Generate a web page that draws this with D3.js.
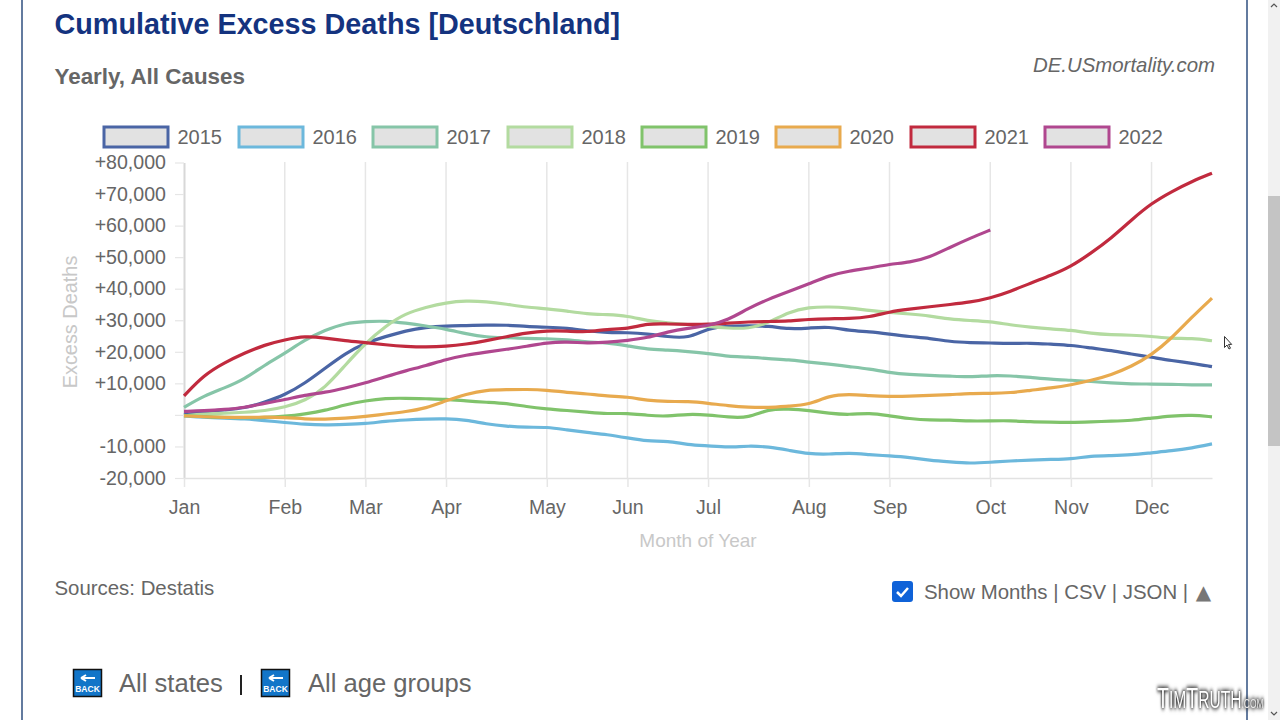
<!DOCTYPE html>
<html><head><meta charset="utf-8">
<script src="https://cdnjs.cloudflare.com/ajax/libs/d3/7.8.5/d3.min.js"></script>
<style>
html,body{margin:0;padding:0;background:#fff;overflow:hidden}
svg{display:block;font-family:"Liberation Sans",Arial,sans-serif}
</style></head><body><svg id="c" width="1280" height="720"></svg>
<script>
const years = ["2015","2016","2017","2018","2019","2020","2021","2022"];
const colors = ["#4a65a5","#6cb8dc","#86c5a8","#b3dba0","#80c36b","#e8aa4e","#c12a3e","#b0478f"];
const monthLabels = ["Jan","Feb","Mar","Apr","May","Jun","Jul","Aug","Sep","Oct","Nov","Dec"];
const monthWeeks = [0,5,9,13,18,22,26,31,35,40,44,48];
const yTicks = [80000,70000,60000,50000,40000,30000,20000,10000,0,-10000,-20000];

// values in thousands of excess deaths, one per week
const s2015 = [0,1,1.6,2.1,4,6.3,10,14.8,19.5,22.9,24.8,26.7,27.8,28.2,28.3,28.5,28.5,28,27.8,27.5,26.6,26.1,26.1,25.7,24.8,24.2,27.5,28.2,28.2,28.2,27.2,27.5,28,26.7,26.4,25.6,24.8,24.3,23.2,22.9,22.8,22.6,22.8,22.4,22.1,21.2,20.4,19.3,18.3,17.2,16.4,15.3];
const s2016 = [-0.3,-0.8,-1,-1.2,-1.8,-2.4,-3,-3.2,-3,-2.8,-2,-1.6,-1.3,-1.2,-1.6,-2.9,-3.6,-4,-3.8,-4.8,-5.6,-6.2,-7.3,-8.4,-8.2,-9.5,-9.8,-10.3,-9.8,-10.1,-11.2,-12.4,-12.5,-12,-12.6,-13,-13.5,-14.4,-14.9,-15.4,-15,-14.6,-14.3,-14.1,-14,-13,-12.9,-12.7,-12,-11.4,-10.5,-9.2];
const s2017 = [2.4,6.1,8.5,11.3,15.8,19.5,23.8,26.9,29.1,29.6,29.8,29.1,28.2,27.2,25.7,24.6,24.5,24.2,24.2,23.8,23.1,22.9,21.9,20.8,20.6,20.1,19.5,18.5,18.4,17.8,17.5,16.7,16.1,15.3,14.6,13.4,12.8,12.5,12.3,12,12.5,12.4,11.9,11.3,11,10.6,10.1,9.8,9.8,9.7,9.5,9.5];
const s2018 = [-0.3,0.3,0.5,0.8,1.3,2.4,4.5,8.5,15.8,22.7,28.2,32.2,34.1,35.6,36.2,35.9,35.1,34.1,33.7,32.9,32,31.8,31.4,29.8,29.1,28.7,28,27.5,27.3,29.1,32.7,34.1,34.3,33.9,33.1,32.5,32,31.4,30.3,29.9,29.6,28.5,27.8,27.2,26.9,25.8,25.4,25.3,24.9,24.2,24.3,23.5];
const s2019 = [-0.2,-0.6,-0.8,-0.9,-0.8,-0.5,0.3,1.4,3.2,4.5,5.3,5.3,5.1,5,4.4,4,3.7,2.6,1.9,1.4,0.9,0.3,0.6,-0.2,-0.5,0.3,0,-0.7,-1,1.9,1.9,1.4,0.5,0,0.7,-0.3,-1.2,-1.7,-1.6,-2,-1.9,-1.8,-2.2,-2.3,-2.4,-2.2,-2,-1.8,-1,-0.3,0,-0.6];
const s2020 = [-0.3,-0.6,-0.8,-0.8,-0.7,-0.8,-1.3,-1.4,-1.1,-0.5,0.3,1,2.1,4.5,6.6,7.9,8,8.1,7.9,7.1,6.7,5.9,5.8,4.5,4.2,4.3,3.7,2.9,2.4,2.3,2.8,3.2,6.1,6.6,6.1,5.8,5.9,6.2,6.4,6.8,6.8,7,7.8,8.5,9.5,10.9,12.7,15.3,19,24.3,31,37];
const s2021 = [6,12.7,16.5,19.6,22.2,23.8,25,24.4,23.5,22.9,22.2,21.7,21.5,21.7,22.4,23.5,24.8,26,26.7,26.6,26.2,27.2,27.2,29,28.8,28.7,28.7,29.1,29.5,29.6,29.7,30.3,30.5,30.5,31,32.7,33.5,34.3,35,35.7,37,39.1,41.8,44.2,47,51.3,56,61.8,67.1,70.8,74,76.6];
const s2022 = [1.1,1.3,1.7,2.3,3.7,4.8,6.3,7.1,8.5,10.1,12.1,14,15.6,17.6,19,19.9,20.8,21.7,22.9,23.2,22.7,23,23.6,24.4,26.4,27.5,28.2,30.1,33.8,36.7,39.1,41.5,44.2,45.6,46.5,47.8,48.3,50,53.1,56,58.6];
const allSeries = [s2015,s2016,s2017,s2018,s2019,s2020,s2021,s2022];

const gray = "#666", svg = d3.select("#c");
const x = d3.scaleLinear().domain([0,51]).range([184,1212]);
const y = d3.scaleLinear().domain([-20,80]).range([478,162.5]);

// page furniture
svg.append("rect").attr("x",1268).attr("y",0).attr("width",12).attr("height",720).attr("fill","#f1f1f1");
svg.append("rect").attr("x",1268).attr("y",196).attr("width",12).attr("height",250).attr("fill","#c4c4c4");
svg.append("path").attr("d","M1271 7l3-3 3 3").attr("fill","none").attr("stroke","#555").attr("stroke-width",1.2);
svg.append("path").attr("d","M1271 712l3 3 3-3").attr("fill","none").attr("stroke","#555").attr("stroke-width",1.2);
[22,1247].forEach(px=>svg.append("line").attr("x1",px).attr("x2",px).attr("y1",0).attr("y2",720).attr("stroke","#2f4f7f").attr("stroke-width",1.5));

svg.append("text").attr("x",54.5).attr("y",34).attr("font-size",28.75).attr("font-weight",700).attr("fill","#14337f").text("Cumulative Excess Deaths [Deutschland]");
svg.append("text").attr("x",54.5).attr("y",84).attr("font-size",22.4).attr("font-weight",700).attr("fill",gray).text("Yearly, All Causes");
svg.append("text").attr("x",1215).attr("y",72).attr("text-anchor","end").attr("font-size",20.4).attr("font-style","italic").attr("fill",gray).text("DE.USmortality.com");

// legend
const legendX = [104,239,373,508,642,776,911,1045];
const lg = svg.append("g").selectAll("g").data(years).join("g").attr("transform",(d,i)=>`translate(${legendX[i]},127)`);
lg.append("rect").attr("width",64).attr("height",20).attr("fill","#e2e2e2").attr("stroke",(d,i)=>colors[i]).attr("stroke-width",3);
lg.append("text").attr("x",73.5).attr("y",17).attr("font-size",20).attr("fill",gray).text(d=>d);

// grid
svg.append("g").selectAll("line").data(monthWeeks.slice(1)).join("line")
  .attr("x1",d=>x(d)).attr("x2",d=>x(d)).attr("y1",162).attr("y2",478).attr("stroke","#e6e6e6").attr("stroke-width",1.5);

// axes
const yAxis = d3.axisLeft(y).tickValues(yTicks.map(v=>v/1000)).tickSize(9).tickSizeOuter(0).tickPadding(9)
  .tickFormat(v=>v===0?"":(v>0?"+":"-")+d3.format(",")(Math.abs(v)*1000));
const gy = svg.append("g").attr("transform","translate(184,0)").call(yAxis);
gy.select(".domain").attr("stroke","#d8d8d8").attr("stroke-width",2);
gy.selectAll(".tick line").attr("stroke","#e6e6e6").attr("stroke-width",1.2);
gy.selectAll("text").attr("font-size",19.6).attr("fill",gray).attr("font-family","Liberation Sans");

const xAxis = d3.axisBottom(x).tickValues(monthWeeks).tickSize(9).tickSizeOuter(0).tickPadding(13).tickFormat((d,i)=>monthLabels[i]);
const gx = svg.append("g").attr("transform","translate(0,478)").call(xAxis);
gx.select(".domain").attr("stroke","#e2e2e2").attr("stroke-width",1.5);
gx.selectAll(".tick line").attr("stroke","#e6e6e6").attr("stroke-width",1.5);
gx.selectAll("text").attr("font-size",19.5).attr("fill",gray).attr("font-family","Liberation Sans");

svg.append("text").attr("transform","translate(77,322) rotate(-90)").attr("text-anchor","middle").attr("font-size",19.9).attr("fill","#c8c8c8").text("Excess Deaths");
svg.append("text").attr("x",698).attr("y",547).attr("text-anchor","middle").attr("font-size",19).attr("fill","#c8c8c8").text("Month of Year");

// lines
const line = d3.line().x((d,i)=>x(i)).y(d=>y(d)).curve(d3.curveBasis);
svg.append("g").selectAll("path").data(allSeries).join("path")
  .attr("d",line).attr("fill","none").attr("stroke",(d,i)=>colors[i]).attr("stroke-width",3.2);

// footer
svg.append("text").attr("x",54.5).attr("y",595).attr("font-size",20.4).attr("fill",gray).text("Sources: Destatis");
svg.append("rect").attr("x",892).attr("y",581).attr("width",21).attr("height",21).attr("rx",3).attr("fill","#0f62d8");
svg.append("path").attr("d","M897 592l4 4 7-8").attr("fill","none").attr("stroke","#fff").attr("stroke-width",2.5);
const sm = svg.append("text").attr("x",924).attr("y",599).attr("font-size",20.4).attr("fill",gray);
sm.append("tspan").text("Show Months | CSV | JSON | ");
sm.append("tspan").attr("font-family","DejaVu Sans").attr("font-size",20).attr("dx",2).attr("fill","#777").text("▲");

function back(px){
  const g = svg.append("g").attr("transform",`translate(${px},669)`);
  g.append("rect").attr("x",0.5).attr("y",0.5).attr("width",28).attr("height",27).attr("fill","#1275c8").attr("stroke","#111").attr("stroke-width",1.5);
  g.append("path").attr("d","M8 9h14M8 9l5-3M8 9l5 3").attr("stroke","#fff").attr("stroke-width",2).attr("fill","none");
  g.append("text").attr("x",14.5).attr("y",23).attr("text-anchor","middle").attr("font-size",8.5).attr("font-weight",700).attr("fill","#fff").text("BACK");
}
back(73); back(261);
svg.append("text").attr("x",119).attr("y",692).attr("font-size",25.6).attr("fill",gray).text("All states");
svg.append("rect").attr("x",240).attr("y",675).attr("width",2).attr("height",20).attr("fill","#222");
svg.append("text").attr("x",308).attr("y",692).attr("font-size",25.6).attr("fill",gray).text("All age groups");

// mouse pointer
svg.append("path").attr("d","M1224.5 336.5v11l2.5-2.5 2 4 1.5-.8-2-3.8h3.2z").attr("fill","#fff").attr("stroke","#333").attr("stroke-width",1);

// watermark
const wmParts = [["T",30,"#fff"],["IM",24,"#fff"],["T",30,"#fff"],["RUTH",24,"#fff"],[".COM",13,"#e8e8e8"]];
const wm = svg.append("text").attr("transform","translate(1157,708) scale(0.65,1)")
  .attr("font-family","Liberation Sans Narrow, Liberation Sans")
  .style("filter","drop-shadow(0 0 2px #222) drop-shadow(0 0 2px #444)");
wm.selectAll("tspan").data(wmParts).join("tspan").attr("font-size",d=>d[1]).attr("fill",d=>d[2]).text(d=>d[0]);
</script></body></html>
